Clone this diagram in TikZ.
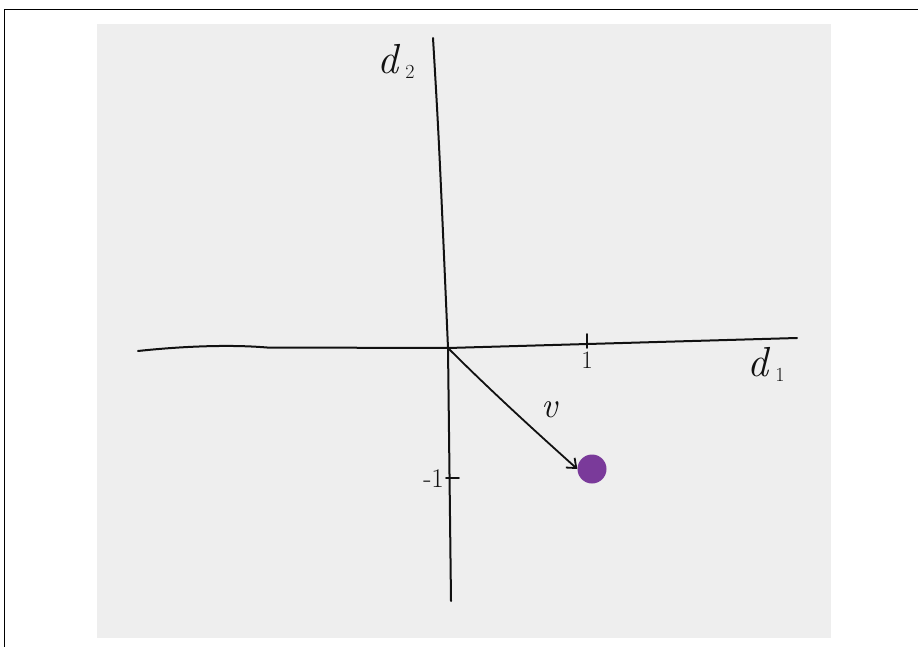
\documentclass[tikz,border=0pt]{standalone}
\usetikzlibrary{arrows.meta}
\definecolor{paper}{HTML}{EEEEEE}
\definecolor{dotpurple}{HTML}{7A3A9A}
\definecolor{ink}{HTML}{111111}
\newcommand{\subnum}[1]{\raisebox{-5pt}{\upshape\fontsize{20}{20}\selectfont #1}}
\begin{document}
\begin{tikzpicture}[x=1pt,y=-1pt,
  axis/.style={line width=2pt, line cap=round, ink},
  tickmark/.style={line width=1.8pt, line cap=round, ink},
  biglbl/.style={inner sep=0pt, ink, font=\fontsize{42}{42}\selectfont\itshape},
  numlbl/.style={inner sep=0pt, ink, font=\fontsize{25}{25}\selectfont},
  vec/.style={line width=1.8pt, ink, line cap=round, -{Straight Barb[length=8pt,width=13pt,line width=1.8pt]}}]
\useasboundingbox (0,0) rectangle (918,647);
% paper and frame
\fill[paper] (97,24) rectangle (831,638);
\draw[line width=1.3pt] (4.5,647) -- (4.5,9.5) -- (918,9.5);
% axes
\coordinate (xl) at (138,351);
\coordinate (O) at (448,348);
\coordinate (xr) at (797,338);
\coordinate (yt) at (433,38);
\coordinate (yb) at (451,601);
\draw[axis] (xl) .. controls (175,347) and (225,344) .. (267,347.5) -- (O) -- (xr);
\draw[axis] (yt) .. controls (439,140) .. (O) -- (yb);
% ticks
\coordinate (t1a) at (587,334);
\coordinate (t1b) at (587,348);
\draw[tickmark] (t1a) -- (t1b);
\coordinate (tma) at (446,478);
\coordinate (tmb) at (459,478);
\draw[tickmark] (tma) -- (tmb);
% labels
\node[numlbl] (one) at (587,360) {1};
\node[numlbl, anchor=east, font=\fontsize{27}{27}\selectfont] (mone) at (444,479) {-1};
\node[biglbl] (d1) at (766,364) {d\,\subnum{1}};
\node[biglbl] (d2) at (396,61) {d\,\subnum{2}};
\node[biglbl, font=\fontsize{36}{36}\selectfont\itshape] (vl) at (550,410) {v};
% point and vector
\node[circle, fill=dotpurple, minimum size=29pt, inner sep=0pt] (pt) at (592,469) {};
\draw[vec] (O) .. controls (495,395) and (545,440) .. (pt.west);
\end{tikzpicture}
\end{document}
